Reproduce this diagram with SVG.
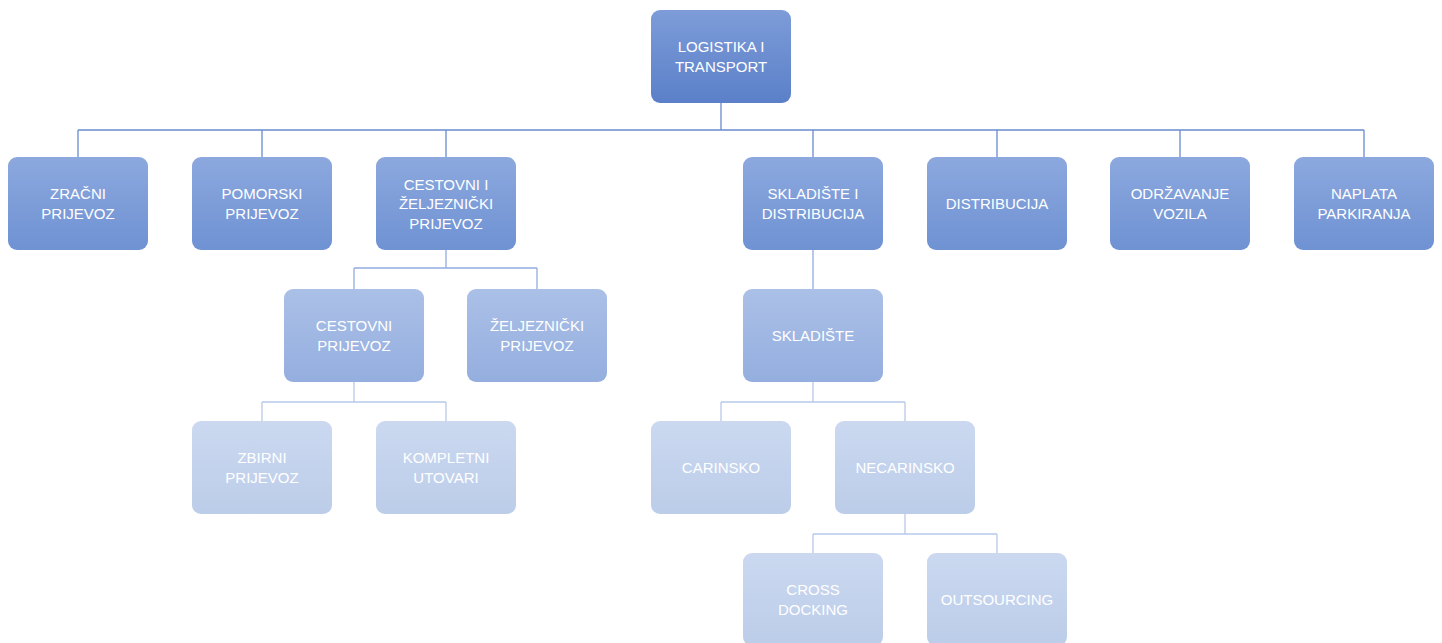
<svg xmlns="http://www.w3.org/2000/svg" width="1442" height="643" viewBox="0 0 1442 643">
<defs>
<linearGradient id="g0" x1="0" y1="0" x2="0" y2="1"><stop offset="0" stop-color="#7d9cd8"/><stop offset="1" stop-color="#5b80c9"/></linearGradient>
<linearGradient id="g1" x1="0" y1="0" x2="0" y2="1"><stop offset="0" stop-color="#8ca8de"/><stop offset="1" stop-color="#6f92d3"/></linearGradient>
<linearGradient id="g2" x1="0" y1="0" x2="0" y2="1"><stop offset="0" stop-color="#abc0e7"/><stop offset="1" stop-color="#94aedf"/></linearGradient>
<linearGradient id="g3" x1="0" y1="0" x2="0" y2="1"><stop offset="0" stop-color="#cbd8f0"/><stop offset="1" stop-color="#bccde9"/></linearGradient>
</defs>
<style>
rect{stroke:none}
.l0{fill:url(#g0)}.l1{fill:url(#g1)}.l2{fill:url(#g2)}.l3{fill:url(#g3)}
text{font-family:"Liberation Sans",Arial,sans-serif;font-size:15px;fill:#ffffff;text-anchor:middle}
.c1{stroke:#6a8ccf;stroke-width:1.3;fill:none}
.c2{stroke:#93acdf;stroke-width:1.3;fill:none}
.c3{stroke:#b8c9ea;stroke-width:1.3;fill:none}
</style>
<g id="connectors">
<path class="c1" d="M721 103V130M78 130H1364M78 130V157M262 130V157M446 130V157M813 130V157M997 130V157M1180 130V157M1364 130V157"/>
<path class="c2" d="M446 250V268M354 268H537M354 268V289M537 268V289M813 250V289"/>
<path class="c3" d="M354 382V402M262 402H446M262 402V421M446 402V421M813 382V402M721 402H905M721 402V421M905 402V421M905 514V534M813 534H997M813 534V553M997 534V553"/>
</g>
<g id="n-root"><rect class="l0" x="651" y="10" width="140" height="93" rx="9"/><text x="721" y="52">LOGISTIKA I</text><text x="721" y="72">TRANSPORT</text></g>
<g id="n-zracni"><rect class="l1" x="8" y="157" width="140" height="93" rx="9"/><text x="78" y="199">ZRAČNI</text><text x="78" y="219">PRIJEVOZ</text></g>
<g id="n-pomorski"><rect class="l1" x="192" y="157" width="140" height="93" rx="9"/><text x="262" y="199">POMORSKI</text><text x="262" y="219">PRIJEVOZ</text></g>
<g id="n-cestzel"><rect class="l1" x="376" y="157" width="140" height="93" rx="9"/><text x="446" y="190">CESTOVNI I</text><text x="446" y="209">ŽELJEZNIČKI</text><text x="446" y="229">PRIJEVOZ</text></g>
<g id="n-skldist"><rect class="l1" x="743" y="157" width="140" height="93" rx="9"/><text x="813" y="199">SKLADIŠTE I</text><text x="813" y="219">DISTRIBUCIJA</text></g>
<g id="n-distribucija"><rect class="l1" x="927" y="157" width="140" height="93" rx="9"/><text x="997" y="209">DISTRIBUCIJA</text></g>
<g id="n-odrzavanje"><rect class="l1" x="1110" y="157" width="140" height="93" rx="9"/><text x="1180" y="199">ODRŽAVANJE</text><text x="1180" y="219">VOZILA</text></g>
<g id="n-naplata"><rect class="l1" x="1294" y="157" width="140" height="93" rx="9"/><text x="1364" y="199">NAPLATA</text><text x="1364" y="219">PARKIRANJA</text></g>
<g id="n-cestovni"><rect class="l2" x="284" y="289" width="140" height="93" rx="9"/><text x="354" y="331">CESTOVNI</text><text x="354" y="351">PRIJEVOZ</text></g>
<g id="n-zeljeznicki"><rect class="l2" x="467" y="289" width="140" height="93" rx="9"/><text x="537" y="331">ŽELJEZNIČKI</text><text x="537" y="351">PRIJEVOZ</text></g>
<g id="n-skladiste"><rect class="l2" x="743" y="289" width="140" height="93" rx="9"/><text x="813" y="341">SKLADIŠTE</text></g>
<g id="n-zbirni"><rect class="l3" x="192" y="421" width="140" height="93" rx="9"/><text x="262" y="463">ZBIRNI</text><text x="262" y="483">PRIJEVOZ</text></g>
<g id="n-kompletni"><rect class="l3" x="376" y="421" width="140" height="93" rx="9"/><text x="446" y="463">KOMPLETNI</text><text x="446" y="483">UTOVARI</text></g>
<g id="n-carinsko"><rect class="l3" x="651" y="421" width="140" height="93" rx="9"/><text x="721" y="473">CARINSKO</text></g>
<g id="n-necarinsko"><rect class="l3" x="835" y="421" width="140" height="93" rx="9"/><text x="905" y="473">NECARINSKO</text></g>
<g id="n-cross"><rect class="l3" x="743" y="553" width="140" height="93" rx="9"/><text x="813" y="595">CROSS</text><text x="813" y="615">DOCKING</text></g>
<g id="n-outsourcing"><rect class="l3" x="927" y="553" width="140" height="93" rx="9"/><text x="997" y="605">OUTSOURCING</text></g>
</svg>
